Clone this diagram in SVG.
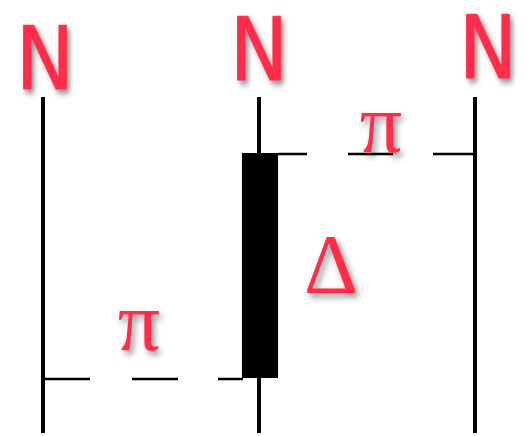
<svg xmlns="http://www.w3.org/2000/svg" width="530" height="436" viewBox="0 0 530 436">
<defs>
<filter id="sh" x="-30%" y="-30%" width="160%" height="160%">
<feDropShadow dx="3" dy="4" stdDeviation="3" flood-color="#000" flood-opacity="0.45"/>
</filter>
</defs>
<style>
.wire{stroke:#000;stroke-width:4;fill:none}
.dash{stroke:#000;stroke-width:2.5;fill:none}
.n{font-family:"DejaVu Sans",sans-serif;font-size:88px;fill:#fe2d4c;stroke:#fe2d4c;stroke-width:1;stroke-linejoin:round;text-anchor:middle;filter:url(#sh)}
.g{font-family:"Liberation Serif",serif;fill:#fe2d4c;text-anchor:middle;filter:url(#sh)}
</style>
<rect width="530" height="436" fill="#fff"/>
<g id="connectors">
<line class="wire" x1="43" y1="97" x2="43" y2="433"/>
<line class="wire" x1="259" y1="97" x2="259" y2="433"/>
<line class="wire" x1="475" y1="97" x2="475" y2="433"/>
<path class="dash" d="M278 154H307M348 154H393M433 154H475"/>
<path class="dash" d="M43 379H90M132 379H178M218 379H243"/>
</g>
<g id="bar"><rect x="242" y="153" width="36" height="225" fill="#000"/></g>
<g id="n1"><text class="n" x="45" y="89" transform="translate(45 0) scale(0.88 1) translate(-45 0)">N</text></g>
<g id="n2"><text class="n" x="259" y="80" transform="translate(259 0) scale(0.88 1) translate(-259 0)">N</text></g>
<g id="n3"><text class="n" x="488" y="78" transform="translate(488 0) scale(0.88 1) translate(-488 0)">N</text></g>
<g id="pi1"><text class="g" x="381" y="152" font-size="84">π</text></g>
<g id="pi2"><text class="g" x="139" y="350" font-size="84">π</text></g>
<g id="delta"><text class="g" x="331" y="293" font-size="84">Δ</text></g>
</svg>
